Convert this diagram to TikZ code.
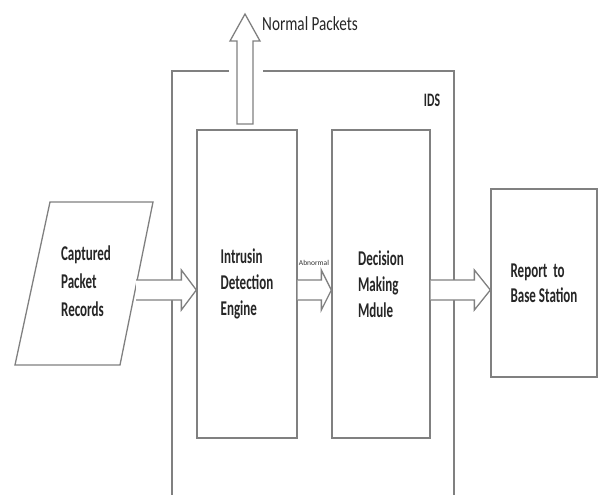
\documentclass[tikz,border=0pt]{standalone}
\usepackage{fontspec}
\setmainfont{Carlito}[FakeStretch=0.62]
\newfontfamily\npfont{Carlito}[FakeStretch=0.76]
\newfontfamily\abfont{Carlito}
\usetikzlibrary{calc}
\newcommand\hblock[3]{% start, tip, head length
  \fill[white] ($(#1)+(0,-10)$) -- ($(#2)+(-#3,-10)$) -- ($(#2)+(-#3,-20)$) -- (#2) -- ($(#2)+(-#3,20)$) -- ($(#2)+(-#3,10)$) -- ($(#1)+(0,10)$) -- cycle;
  \draw[line] ($(#1)+(0,-10)$) -- ($(#2)+(-#3,-10)$) -- ($(#2)+(-#3,-20)$) -- (#2) -- ($(#2)+(-#3,20)$) -- ($(#2)+(-#3,10)$) -- ($(#1)+(0,10)$);
}
\begin{document}
\begin{tikzpicture}[x=1pt,y=-1pt,
  line/.style={draw=black!50, line width=1.3pt, line join=miter},
  box/.style={line, fill=white, rectangle, inner sep=0pt, font=\fontsize{21}{26}\selectfont\bfseries, align=left, text=black!85},
  lbl/.style={font=\fontsize{21}{26}\selectfont\bfseries, align=left, text=black!85, inner sep=0pt}]
\useasboundingbox (0,0) rectangle (598,495);

% IDS boundary
\draw[line] (229,71) -- (172,71) -- (172,496);
\draw[line] (263,71) -- (454,71) -- (454,496);
\node[lbl, font=\fontsize{19}{22}\selectfont\bfseries] (ids) at (432,100) {IDS};

% parallelogram
\coordinate (p1) at (50,202);
\coordinate (p2) at (153,202);
\coordinate (p3) at (120,365);
\coordinate (p4) at (15,365);
\draw[line, fill=white] (p1) -- (p2) -- (p3) -- (p4) -- cycle;
\node[lbl, font=\fontsize{21}{28}\selectfont\bfseries] (cap) at (86,281) {Captured\\Packet\\Records};

% boxes
\node[box, minimum width=100pt, minimum height=308pt] (ide) at (247,284) {Intrusin\\Detection\\Engine};
\node[box, minimum width=98pt, minimum height=308pt] (dmm) at (381,284) {Decision\\Making\\Mdule};
\node[box, minimum width=106pt, minimum height=188pt, font=\fontsize{21}{25}\selectfont\bfseries] (rep) at (544,283) {Report\ \ to\\Base Station};

% block arrows
\coordinate (a1s) at (136,290);
\coordinate (a1t) at (ide.west |- a1s);
\hblock{a1s}{a1t}{15}
\coordinate (a2s) at (ide.east |- a1s);
\coordinate (a2t) at (dmm.west |- a1s);
\hblock{a2s}{a2t}{10}
\coordinate (a3s) at (dmm.east |- a1s);
\coordinate (a3t) at (rep.west |- a1s);
\hblock{a3s}{a3t}{16}
\node[inner sep=0pt, text=black!80, font=\fontsize{7.5}{8}\selectfont\abfont] (abn) at (314,263) {Abnormal};

% normal packets arrow
\coordinate (nb) at (245,124);
\coordinate (nt) at (245,14);
\draw[line, fill=white] ($(nb)+(-8,0)$) -- ($(nt)+(-8,27)$) -- ($(nt)+(-15,27)$) -- (nt) -- ($(nt)+(15,27)$) -- ($(nt)+(8,27)$) -- ($(nb)+(8,0)$) -- cycle;
\node[lbl, anchor=west, font=\fontsize{20}{24}\selectfont\npfont] (np) at (262,24) {Normal Packets};
\end{tikzpicture}
\end{document}
